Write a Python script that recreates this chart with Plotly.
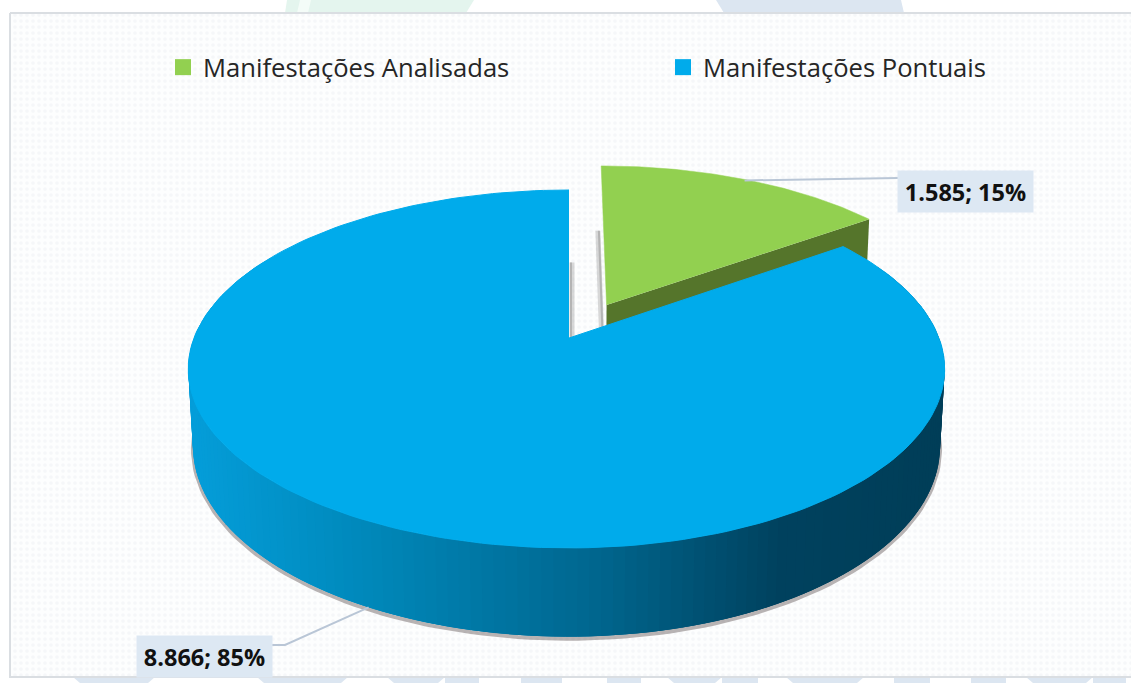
import numpy as np
import plotly.graph_objects as go

# Chart data
categorias = ["Manifestações Analisadas", "Manifestações Pontuais"]
valores = [1585, 8866]
cores_topo = ["#92D050", "#00ABEB"]

# Tilted-disc projection
W, H = 1131, 683
X0, Y0 = 569.0, 338.0
A_ESQ, A_DIR, B = 375.0, 370.0, 173.6
K = 0.173
ESPESSURA = 77.0
ENCOLHE = 0.012
EXPLODE_VERDE = (0.105, 0.1965)

PAREDE_X = [188, 370, 600, 780, 945]
PAREDE_RGB = [(5, 158, 218), (0, 136, 186), (0, 102, 142), (0, 66, 95), (0, 62, 88)]


def projeta(x, y, z=0.0):
    x, y = np.asarray(x, float), np.asarray(y, float)
    w = 1 + K * y + ENCOLHE * z
    return X0 + np.where(x < 0, A_ESQ, A_DIR) * x / w, Y0 - B * y / w + ESPESSURA * z / w


def borda(theta, origem=(0.0, 0.0)):
    """Rim point for a clockwise angle measured from the top of the disc."""
    return origem[0] + np.sin(theta), origem[1] + np.cos(theta)


def poligono(xs, ys, cor, largura=0.0):
    return go.Scatter(
        x=list(xs), y=list(ys), mode="lines", fill="toself", fillcolor=cor,
        line=dict(color=cor, width=largura), hoverinfo="skip", showlegend=False,
    )


def linha(xs, ys, cor, largura):
    return go.Scatter(
        x=list(xs), y=list(ys), mode="lines", line=dict(color=cor, width=largura),
        hoverinfo="skip", showlegend=False,
    )


fracoes = np.array(valores) / sum(valores)
fim_verde = 2 * np.pi * fracoes[0]
meio_verde = fim_verde / 2
meio_azul = fim_verde + np.pi * fracoes[1]

fig = go.Figure()

# Dotted panel behind the chart
fig.add_trace(go.Scatter(
    x=[10, W + 4, W + 4, 10, 10], y=[13, 13, 677, 677, 13], mode="lines", fill="toself",
    fillcolor="#FDFEFE", line=dict(color="#DADEE2", width=2),
    fillpattern=dict(shape=".", fgcolor="#EDF0F3", bgcolor="#FDFEFE", size=6, solidity=0.3),
    hoverinfo="skip", showlegend=False,
))

# Green slice: cut face, faint left edge, top
t_v = np.linspace(0, fim_verde, 80)
rx, ry = borda(t_v, EXPLODE_VERDE)
ax, ay = EXPLODE_VERDE
cx = [ax, rx[-1], rx[-1], ax]
cy = [ay, ry[-1], ry[-1], ay]
cz = [0, 0, 1, 1]
px, py = projeta(cx, cy, np.array(cz))
fig.add_trace(poligono(px, py, "#55752B"))
ex, ey = projeta([rx[0], ax], [ry[0], ay], np.array([1.0, 1.0]))
fig.add_trace(linha(ex - 3, ey, "rgba(170,170,170,0.45)", 5))
fig.add_trace(linha(ex - 2, ey, "#B4B4B4", 2))
tx, ty = projeta(np.r_[ax, rx], np.r_[ay, ry])
fig.add_trace(poligono(tx, ty, cores_topo[0], 0.5))

# Blue slice: soft shadow, faint cut edge, shaded outer wall, top
t_a = np.linspace(fim_verde, 2 * np.pi, 200)
rx, ry = borda(t_a)
bx, by = projeta(rx, ry, 1.0)
visivel = (t_a > np.pi * 0.42) & (t_a < np.pi * 1.58)
fig.add_trace(linha(bx[visivel], by[visivel] + 2, "rgba(115,105,105,0.5)", 4))

ex, ey = projeta([0.0, 0.0], [1.0, 0.0], np.array([1.0, 0.0]))
fig.add_trace(linha(ex + 3, [ey[0] + 6, ey[1]], "rgba(170,170,170,0.45)", 5))
fig.add_trace(linha(ex + 2, [ey[0] + 6, ey[1]], "#B4B4B4", 2))

sx, sy = projeta(rx, ry)
# Wall strips overlap the next one along the rim so no seams show between them
for i in range(len(t_a) - 3):
    if not (np.pi * 0.35 < t_a[i] < np.pi * 1.65):
        continue
    meio = (sx[i] + sx[i + 1]) / 2
    rgb = [int(np.interp(meio, PAREDE_X, [c[j] for c in PAREDE_RGB])) for j in range(3)]
    cor = "rgb({},{},{})".format(*rgb)
    fig.add_trace(poligono(
        [sx[i], sx[i + 3], bx[i + 3], bx[i], sx[i]],
        [sy[i], sy[i + 3], by[i + 3], by[i], sy[i]], cor, 0.0,
    ))

fig.add_trace(poligono(np.r_[X0, sx], np.r_[Y0, sy], cores_topo[1], 1.0))

# Leader lines and value labels
lx, ly = projeta(*borda(meio_verde, EXPLODE_VERDE))
fig.add_trace(linha([float(lx), 898], [float(ly) + 1, 178], "#B9C6D6", 2))
lx, ly = projeta(*borda(meio_azul), 1.0)
fig.add_trace(linha([float(lx), 285, 272], [float(ly), 645, 645], "#B9C6D6", 2))

rotulos = [f"{v:,}".replace(",", ".") + f"; {round(f * 100)}%" for v, f in zip(valores, fracoes)]
for texto, (cxa, cya) in zip(rotulos, [(965.5, 191.5), (204, 656.5)]):
    fig.add_annotation(
        x=cxa, y=cya, text=f"<b>{texto}</b>", showarrow=False, width=135, height=41,
        align="center", valign="middle", bgcolor="#DDE8F3", borderpad=0,
        font=dict(family="Open Sans", size=23.5, color="#111111"),
    )

# One legend per entry, so each can sit at its own place along the top
for nome, cor, chave in zip(categorias, cores_topo, ["legend", "legend2"]):
    fig.add_trace(go.Scatter(
        x=[None], y=[None], mode="markers", name=nome, legend=chave, showlegend=True,
        marker=dict(symbol="square", size=16, color=cor),
    ))


# Pale tabs of the page behind the panel
def forma(xs, ys, cor):
    d = "M " + " L ".join(f"{a},{b}" for a, b in zip(xs, ys)) + " Z"
    return dict(type="path", path=d, fillcolor=cor, line=dict(width=0), layer="below",
                xref="x", yref="y")


CLARO = "#DCE6F1"
abas = [
    forma([287, 474, 466, 285], [0, 0, 13, 13], "#E4F5EE"),
    forma([300, 311, 308, 297], [0, 0, 13, 13], "#F4FCF8"),
    forma([716, 901, 904, 724], [0, 0, 13, 13], CLARO),
]
for a, b in [(73, 155), (257, 348), (387, 445), (667, 722), (786, 864), (1026, 1093)]:
    abas.append(forma([a, b, b - 7, a + 7], [677, 677, 683, 683], CLARO))
for a, b in [(445, 479), (521, 562), (607, 641), (722, 758), (894, 930), (971, 1006), (1093, 1126)]:
    abas.append(forma([a, b, b, a], [677, 677, 683, 683], CLARO))

fonte_legenda = dict(family="Open Sans", size=25.6, color="#262626")
fig.update_layout(
    width=W, height=H, margin=dict(l=0, r=0, t=0, b=0),
    paper_bgcolor="#FFFFFF", plot_bgcolor="#FFFFFF",
    xaxis=dict(range=[0, W], visible=False, fixedrange=True),
    yaxis=dict(range=[H, 0], visible=False, fixedrange=True),
    shapes=abas,
    legend=dict(x=163 / W, y=1 - 44 / H, xanchor="left", yanchor="top",
                bgcolor="rgba(0,0,0,0)", font=fonte_legenda, itemclick=False),
    legend2=dict(x=663 / W, y=1 - 44 / H, xanchor="left", yanchor="top",
                 bgcolor="rgba(0,0,0,0)", font=fonte_legenda, itemclick=False),
)

fig.write_html("out.html", config=dict(displayModeBar=False))
